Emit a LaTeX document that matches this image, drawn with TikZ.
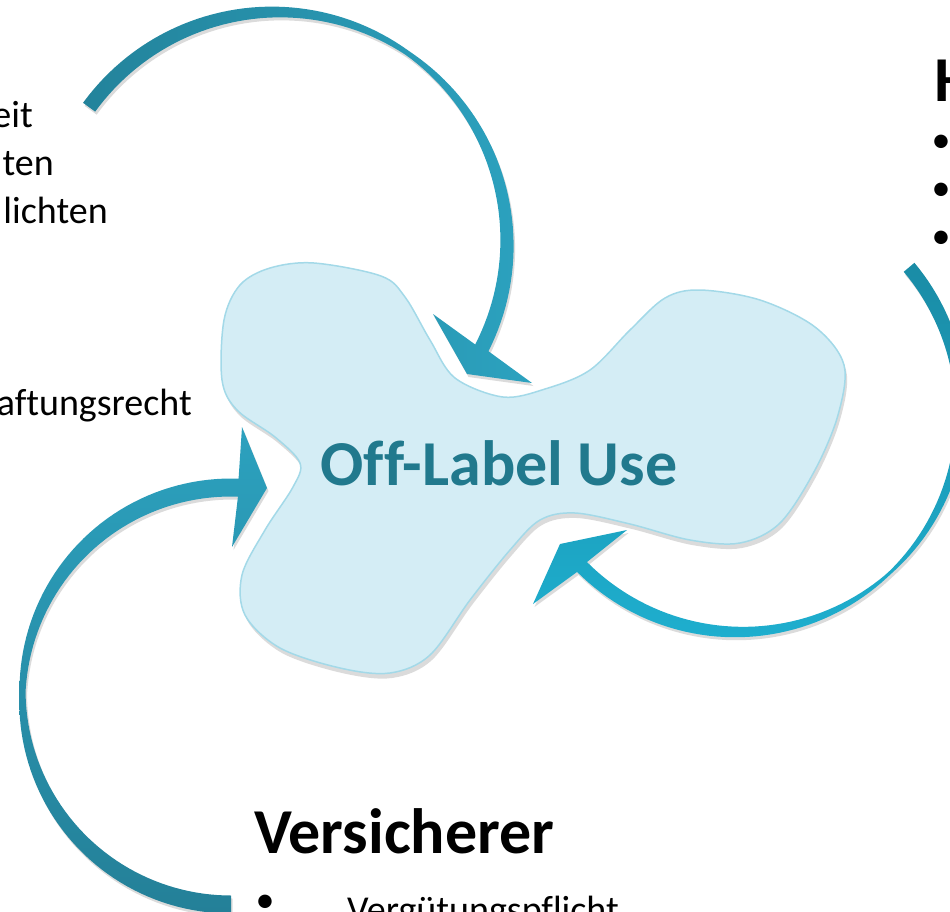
\documentclass[tikz,border=0pt]{standalone}
\usepackage{fontspec}
\setmainfont{Carlito}[Ligatures=NoCommon]
\begin{document}
\begin{tikzpicture}[x=1pt,y=-1pt]
\definecolor{blobfill}{HTML}{D4EDF5}
\definecolor{blobline}{HTML}{A3D9E8}
\definecolor{labelc}{HTML}{21798D}
\definecolor{tadark}{HTML}{23839B}
\definecolor{talight}{HTML}{2CA2BF}
\definecolor{ladark}{HTML}{248098}
\definecolor{lalight}{HTML}{2CA1BE}
\definecolor{radark}{HTML}{1A8CA6}
\definecolor{ralight}{HTML}{1EAECE}
\tikzset{
  bodytext/.style={inner sep=0pt, font=\fontsize{38pt}{48pt}\selectfont, text=black},
  headtext/.style={inner sep=0pt, font=\fontsize{64pt}{72pt}\selectfont\bfseries, text=black},
  shadowfill/.style={fill=black, opacity=0.14},
}
\def\blobpath{plot[smooth cycle,tension=0.55] coordinates {
 (314,263) (381,276) (405,297) (430,340) (455,378) (503,397) (545,389)
 (590,370) (630,330) (665,298) (700,290) (760,300) (815,327) (844,365)
 (838,415) (815,470) (780,523) (740,543) (690,540) (630,524) (575,513)
 (540,520) (510,550) (470,600) (430,655) (390,673) (340,668) (280,648)
 (245,615) (242,575) (265,530) (293,487) (300,463) (275,437) (237,410)
 (222,380) (224,320) (240,285) (270,268)}}
\def\toparrow{plot[domain=-144:27,samples=90,variable=\t]
  ({276+(231+2.5+5*abs(sin(\t+55)))*cos(\t)},{243+(231+2.5+5*abs(sin(\t+55)))*sin(\t)})
  -- (532,383) -- (467,374) -- (433,314)
  -- plot[domain=27:-144,samples=90,variable=\t]
  ({276+(231-2.5-5*abs(sin(\t+55)))*cos(\t)},{243+(231-2.5-5*abs(sin(\t+55)))*sin(\t)}) -- cycle}
\def\leftarrow{plot[domain=90:272,samples=90,variable=\t]
  ({231+(208.5+3+6*abs(sin(\t-181)))*cos(\t)},{696+(208.5+3+6*abs(sin(\t-181)))*sin(\t)})
  -- (242,427) -- (267,488) -- (232,547)
  -- plot[domain=272:90,samples=90,variable=\t]
  ({231+(208.5-3-6*abs(sin(\t-181)))*cos(\t)},{696+(208.5-3-6*abs(sin(\t-181)))*sin(\t)}) -- cycle}
\def\rightarrow{plot[domain=-40:135,samples=90,variable=\t]
  ({739+(222+1.5+5.5*abs(sin(\t-47.5)))*cos(\t)},{410+(222+1.5+5.5*abs(sin(\t-47.5)))*sin(\t)})
  -- (533,604) -- (560,544) -- (627,530)
  -- plot[domain=135:-40,samples=90,variable=\t]
  ({739+(222-1.5-5.5*abs(sin(\t-47.5)))*cos(\t)},{410+(222-1.5-5.5*abs(sin(\t-47.5)))*sin(\t)}) -- cycle}
\useasboundingbox (0,0) rectangle (950,911);
\begin{scope}
\clip (0,0) rectangle (950,911);
% central shape
\fill[shadowfill,shift={(2,5)}] \blobpath;
\path[fill=blobfill,draw=blobline,line width=1.5pt] \blobpath;
% arrows
\fill[shadowfill,shift={(1.5,3)}] \toparrow;
\path[left color=tadark,right color=talight] \toparrow;
\fill[shadowfill,shift={(1.5,3)}] \leftarrow;
\path[top color=lalight,bottom color=ladark] \leftarrow;
\fill[shadowfill,shift={(1.5,3)}] \rightarrow;
\path[top color=radark,bottom color=ralight] \rightarrow;
% label
\node[inner sep=0pt, font=\fontsize{64pt}{72pt}\selectfont\bfseries, text=labelc, anchor=base] (olu) at (499,485) {Off-Label Use};
% left texts
\node[bodytext, anchor=base east] (l1) at (33,127) {eit};
\node[bodytext, anchor=base east] (l2) at (54,175) {ten};
\node[bodytext, anchor=base east] (l3) at (108,223) {lichten};
\node[bodytext, anchor=base east] (l4) at (192,415) {aftungsrecht};
% right header
\node[headtext, anchor=base west] (h) at (934,101) {H};
\node[bodytext, anchor=base] (b1) at (941,152.5) {•};
\node[bodytext, anchor=base] (b2) at (941,200.5) {•};
\node[bodytext, anchor=base] (b3) at (941,248.5) {•};
% bottom header
\node[headtext, anchor=base west] (v) at (254,853) {Versicherer};
\node[bodytext, anchor=base] (b4) at (265,912.5) {•};
\node[bodytext, anchor=base west] (vp) at (347,922) {Vergütungspflicht};
\end{scope}
\end{tikzpicture}
\end{document}
